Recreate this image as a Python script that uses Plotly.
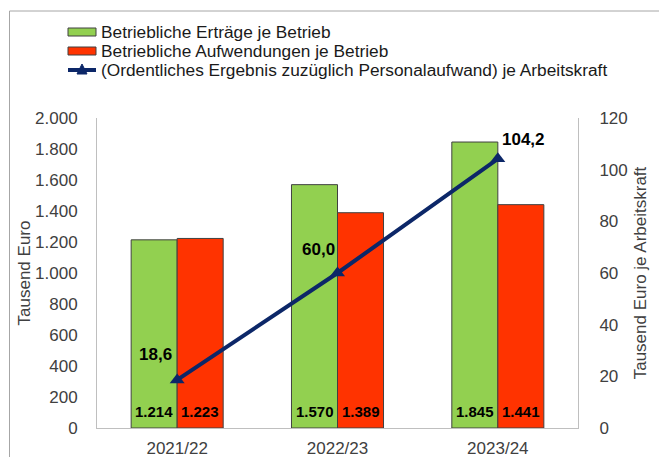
import plotly.graph_objects as go

categories = ["2021/22", "2022/23", "2023/24"]
ertraege = [1214, 1570, 1845]
aufwendungen = [1223, 1389, 1441]
ergebnis_ak = [18.6, 60.0, 104.2]

name_ertraege = "Betriebliche Erträge je Betrieb"
name_aufw = "Betriebliche Aufwendungen je Betrieb"
name_ergebnis = "(Ordentliches Ergebnis zuzüglich Personalaufwand) je Arbeitskraft"

left_ticks = [0, 200, 400, 600, 800, 1000, 1200, 1400, 1600, 1800, 2000]
left_tick_labels = ["0", "200", "400", "600", "800", "1.000", "1.200", "1.400", "1.600", "1.800", "2.000"]
right_ticks = [0, 20, 40, 60, 80, 100, 120]
right_tick_labels = ["0", "20", "40", "60", "80", "100", "120"]

GREEN = "#92D050"
RED = "#FF3300"
NAVY = "#0C2768"
FONT = "Liberation Sans, Arial, sans-serif"

W, H = 659, 457
L, R, T, B = 97, 578, 118, 428  # plot area in pixels


def px(x):
    return (x - L) / (R - L)


def py(y):
    return (B - y) / (B - T)


fig = go.Figure()
fig.add_trace(go.Bar(x=categories, y=ertraege, name=name_ertraege,
                     marker=dict(color=GREEN, line=dict(color="#404040", width=1)),
                     showlegend=False))
fig.add_trace(go.Bar(x=categories, y=aufwendungen, name=name_aufw,
                     marker=dict(color=RED, line=dict(color="#404040", width=1)),
                     showlegend=False))
fig.add_trace(go.Scatter(x=categories, y=ergebnis_ak, name=name_ergebnis, yaxis="y2",
                         mode="lines+markers",
                         line=dict(color=NAVY, width=4),
                         marker=dict(symbol="triangle-up", size=13, color=NAVY),
                         showlegend=False))

annotations = []
# bar value labels
for c, v in zip(categories, ertraege):
    annotations.append(dict(x=c, y=0, xref="x", yref="y", xshift=-23, yshift=17,
                            text="<b>" + f"{v:,}".replace(",", ".") + "</b>", showarrow=False,
                            font=dict(family=FONT, size=15, color="#000000")))
for c, v in zip(categories, aufwendungen):
    annotations.append(dict(x=c, y=0, xref="x", yref="y", xshift=23, yshift=17,
                            text="<b>" + f"{v:,}".replace(",", ".") + "</b>", showarrow=False,
                            font=dict(family=FONT, size=15, color="#000000")))
# line labels
offsets = [(-22, 25), (-19, 24), (26, 19)]
for c, v, (dx, dy) in zip(categories, ergebnis_ak, offsets):
    annotations.append(dict(x=c, y=v, xref="x", yref="y2", xshift=dx, yshift=dy,
                            text="<b>" + f"{v:.1f}".replace(".", ",") + "</b>", showarrow=False,
                            font=dict(family=FONT, size=17, color="#000000")))

# custom legend
legend_rows = [(name_ertraege, 32, "bar", GREEN), (name_aufw, 51, "bar", RED),
               (name_ergebnis, 70, "line", NAVY)]
shapes = []
for name, yc, kind, col in legend_rows:
    if kind == "bar":
        shapes.append(dict(type="rect", xref="paper", yref="paper",
                           x0=px(68), x1=px(96), y0=py(yc + 4), y1=py(yc - 4),
                           fillcolor=col, line=dict(color="#404040", width=1)))
    else:
        shapes.append(dict(type="line", xref="paper", yref="paper",
                           x0=px(68), x1=px(96), y0=py(yc), y1=py(yc),
                           line=dict(color=col, width=4)))
        shapes.append(dict(type="path", xref="paper", yref="paper",
                           path=f"M {px(77)} {py(yc + 4)} L {px(87)} {py(yc + 4)} L {px(82)} {py(yc - 6)} Z",
                           fillcolor=col, line=dict(color=col, width=1)))
    annotations.append(dict(x=px(98.5), y=py(yc), xref="paper", yref="paper",
                            xanchor="left", yanchor="middle", text=name, showarrow=False,
                            font=dict(family=FONT, size=17.3, color="#1A1A1A")))

# outer border
shapes.append(dict(type="rect", xref="paper", yref="paper",
                   x0=px(9.5), x1=px(680), y0=py(480), y1=py(11),
                   line=dict(color="#A6A6A6", width=1), fillcolor="rgba(0,0,0,0)", layer="below"))

fig.update_layout(
    width=W, height=H,
    margin=dict(l=L, r=W - R, t=T, b=H - B, pad=0),
    paper_bgcolor="white", plot_bgcolor="white",
    barmode="group", bargap=0.426, bargroupgap=0,
    font=dict(family=FONT, size=17, color="#404040"),
    showlegend=False,
    xaxis=dict(showline=True, linecolor="#BFBFBF", linewidth=1, ticks="", showgrid=False,
               ticklabelstandoff=5,
               tickfont=dict(size=17, color="#404040"), mirror=False, automargin=False),
    yaxis=dict(range=[0, 2000], tickvals=left_ticks, ticktext=left_tick_labels,
               showline=True, linecolor="#BFBFBF", linewidth=1, showgrid=False, zeroline=False,
               ticks="", ticklabelstandoff=15, automargin=False,
               title=dict(text="Tausend Euro", font=dict(size=17, color="#404040"), standoff=0),
               tickfont=dict(size=17, color="#404040")),
    yaxis2=dict(range=[0, 120], tickvals=right_ticks, ticktext=right_tick_labels,
                overlaying="y", side="right", showline=True, linecolor="#BFBFBF", linewidth=1,
                showgrid=False, zeroline=False, ticks="", ticklabelstandoff=17, automargin=False,
                title=dict(text="Tausend Euro je Arbeitskraft", font=dict(size=17, color="#404040"), standoff=7),
                tickfont=dict(size=17, color="#404040")),
    annotations=annotations,
    shapes=shapes,
)

fig.write_html("out.html", config={"displayModeBar": False},
               post_script="document.body.style.margin='0';document.body.style.overflow='hidden';")
